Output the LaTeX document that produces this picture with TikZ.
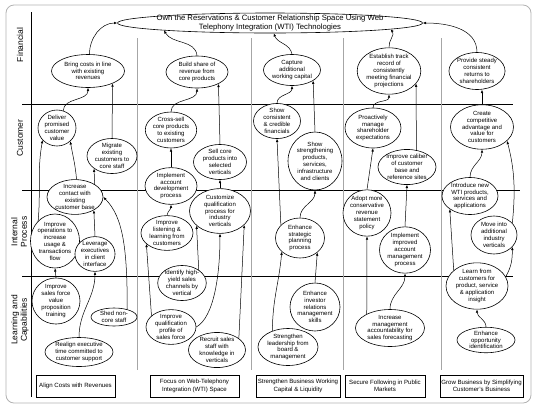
\documentclass[tikz,border=0pt]{standalone}
\usepackage{fontspec}
\setmainfont{Liberation Sans}
\usetikzlibrary{shapes.geometric,arrows.meta,shadows}
\begin{document}
\begin{tikzpicture}[x=1pt,y=1pt,
  el/.style={ellipse,draw,fill=white,line width=0.6pt,inner sep=0pt,align=center,font=\fontsize{6}{6.8}\selectfont},
  sz/.style 2 args={minimum width=#1pt,minimum height=#2pt},
  conn/.style={line width=0.5pt,-{Latex[length=3.2pt,width=2.6pt]}},
  lane/.style={line width=0.8pt},
  col/.style={draw=black!35,line width=0.5pt},
  bx/.style={draw,fill=white,line width=0.6pt,align=center,font=\fontsize{6.1}{7.2}\selectfont,inner sep=0pt,minimum height=22pt,drop shadow={shadow xshift=0.8pt,shadow yshift=-0.8pt,opacity=1,fill=black}},
  lbl/.style={rotate=90,align=center,font=\fontsize{8.5}{9.5}\selectfont}
]
\useasboundingbox (0,0) rectangle (538,-408);
\draw[black!30,line width=0.8pt,rounded corners=8pt] (6,-5) rectangle (531,-403);
% structure lines
\draw[lane] (31,-12) -- (31,-397);
\draw[lane] (22,-104) -- (513,-104);
\draw[lane] (22,-190) -- (520,-190);
\draw[lane] (22,-276) -- (513,-276);
\foreach \cx in {137,251,343,441} \draw[col] (\cx,-38) -- (\cx,-370);
% lane labels
\node[lbl] (lf) at (20,-45) {Financial};
\node[lbl] (lc) at (20,-138) {Customer};
\node[lbl] (li) at (19,-232) {Internal\\Process};
\node[lbl] (ll) at (20,-320) {Learning and\\Capabilities};
% title
\node[el,sz={305}{20},font=\fontsize{7.7}{9}\selectfont,inner xsep=-35pt,inner ysep=-3pt] (title) at (270,-23) {Own the Reservations \& Customer Relationship Space Using Web\\Telephony Integration (WTI) Technologies};
% financial
\node[el,sz={73}{33}] (bring) at (88,-71) {Bring costs in line\\with existing\\revenues};
\node[el,sz={62}{32}] (build) at (197,-72) {Build share of\\revenue from\\core products};
\node[el,sz={57}{31}] (capture) at (292,-70) {Capture\\additional\\working capital};
\node[el,sz={63}{42}] (establish) at (389,-71) {Establish track\\record of\\consistently\\meeting financial\\projections};
\node[el,sz={55}{37}] (provide) at (477,-71) {Provide steady\\consistent\\returns to\\shareholders};
% customer
\node[el,sz={38}{36}] (deliver) at (57,-128) {Deliver\\promised\\customer\\value};
\node[el,sz={50}{32}] (migrate) at (112,-156) {Migrate\\existing\\customers to\\core staff};
\node[el,sz={50}{36}] (crosssell) at (171,-130) {Cross-sell\\core products\\to existing\\customers};
\node[el,sz={53}{28}] (sellcore) at (220,-162) {Sell core\\products into\\selected\\verticals};
\node[el,sz={47}{31}] (showcons) at (277,-121) {Show\\consistent\\\& credible\\financials};
\node[el,sz={54}{58}] (showstr) at (315,-161) {Show\\strengthening\\products,\\services,\\infrastructure\\and clients};
\node[el,sz={56}{40}] (proactive) at (373,-128) {Proactively\\manage\\shareholder\\expectations};
\node[el,sz={54}{30}] (caliber) at (407,-167) {Improve caliber\\of customer\\base and\\reference sites};
\node[el,sz={63}{37}] (create) at (482,-127) {Create\\competitive\\advantage and\\value for\\customers};
% internal
\node[el,sz={56}{32}] (increase) at (75,-197) {Increase\\contact with\\existing\\customer base};
\node[el,sz={48}{53}] (improveops) at (55,-241) {Improve\\operations to\\increase\\usage \&\\transactions\\flow};
\node[el,sz={33}{33}] (leverage) at (95,-254) {Leverage\\executives\\in client\\interface};
\node[el,sz={52}{32}] (implement) at (171,-186) {Implement\\account\\development\\process};
\node[el,sz={61}{36}] (customize) at (220,-211) {Customize\\qualification\\process for\\industry\\verticals};
\node[el,sz={52}{29}] (improvelisten) at (167,-233) {Improve\\listening \&\\learning from\\customers};
\node[el,sz={49}{40}] (enhancestrat) at (300,-238) {Enhance\\strategic\\planning\\process};
\node[el,sz={48}{40}] (adopt) at (367,-213) {Adopt more\\conservative\\revenue\\statement\\policy};
\node[el,sz={51}{44}] (implimproved) at (405,-250) {Implement\\improved\\account\\management\\process};
\node[el,sz={56}{37}] (introduce) at (470,-196) {Introduce new\\WTI products,\\services and\\applications};
\node[el,sz={46}{38}] (moveinto) at (494,-235) {Move into\\additional\\industry\\verticals};
% learning
\node[el,sz={48}{42}] (improvesales) at (56,-301) {Improve\\sales force\\value\\proposition\\training};
\node[el,sz={46}{18}] (shed) at (114,-317) {Shed non-\\core staff};
\node[el,sz={68}{29}] (realign) at (79,-352) {Realign executive\\time committed to\\customer support};
\node[el,sz={47}{34}] (identify) at (182,-283) {Identify high-\\yield sales\\channels by\\vertical};
\node[el,sz={50}{34}] (improvequal) at (171,-327) {Improve\\qualification\\profile of\\sales force};
\node[el,sz={57}{30}] (recruit) at (217,-350) {Recruit sales\\staff with\\knowledge in\\verticals};
\node[el,sz={50}{48}] (enhinvestor) at (315,-307) {Enhance\\investor\\relations\\management\\skills};
\node[el,sz={60}{37}] (strengthen) at (288,-347) {Strengthen\\leadership from\\board \&\\management};
\node[el,sz={69}{37}] (incmgmt) at (390,-328) {Increase\\management\\accountability for\\sales forecasting};
\node[el,sz={62}{42}] (learn) at (477,-286) {Learn from\\customers for\\product, service\\\& application\\insight};
\node[el,sz={58}{25}] (enhopp) at (486,-340) {Enhance\\opportunity\\identification};
% bottom boxes
\node[bx,minimum width=79pt] (b1) at (75.5,-386) {Align Costs with Revenues};
\node[bx,minimum width=89pt] (b2) at (194.5,-386) {Focus on Web-Telephony\\Integration (WTI) Space};
\node[bx,minimum width=84pt] (b3) at (298,-386) {Strengthen Business Working\\Capital \& Liquidity};
\node[bx,minimum width=80pt] (b4) at (385,-386) {Secure Following in Public\\Markets};
\node[bx,minimum width=83pt] (b5) at (481.5,-386) {Grow Business by Simplifying\\Customer's Business};
% connectors to title
\draw[conn] (bring.85) to[out=90,in=180] (title.west);
\draw[conn] (build.north) to[out=95,in=-60] (title.-176);
\draw[conn] (capture.north) to[out=100,in=-70] (title.-70);
\draw[conn] (establish.north) to[out=95,in=-50] (title.-3.6);
\draw[conn] (provide.north) to[out=90,in=0] (title.east);
% column 1
\draw[conn] (deliver.70) to[out=90,in=-90] (bring.south);
\draw[conn] (migrate.north) -- (bring.-27);
\draw[conn] (increase.85) to[out=95,in=-80] (deliver.-45);
\draw[conn] (improveops.130) to[out=85,in=-100] (deliver.-140);
\draw[conn] (increase.33) -- (migrate.-145);
\draw[conn] (leverage.north) -- (increase.-35);
\draw[conn] (shed.30) .. controls +(0,60) and +(20,-20) .. (increase.east);
\draw[conn] (improvesales.north) -- (improveops.south);
\draw[conn] (realign.north) to[out=90,in=-90] (leverage.south);
% column 2
\draw[conn] (crosssell.north) to[out=90,in=-90] (build.south);
\draw[conn] (sellcore.north) -- (build.-29);
\draw[conn] (implement.north) -- (crosssell.south);
\draw[conn] (customize.north) -- (sellcore.south);
\draw[conn] (improvelisten.north) to[out=80,in=-90] (implement.south);
\draw[conn] (identify.38) -- (customize.-148);
\draw[conn] (improvequal.east) .. controls +(18,10) and +(0,-40) .. (customize.south);
\draw[conn] (recruit.28) -- (customize.-30);
\draw[conn] (improvequal.150) -- (improvelisten.-152);
% column 3
\draw[conn] (showcons.north) to[out=90,in=-90] (capture.south);
\draw[conn] (showstr.north) -- (capture.-27);
\draw[conn] (enhancestrat.146) -- (showcons.south);
\draw[conn] (enhancestrat.north) to[out=90,in=-90] (showstr.south);
\draw[conn] (enhinvestor.north) -- (enhancestrat.-40);
\draw[conn] (strengthen.134) to[out=90,in=-95] (enhancestrat.-143);
% column 4
\draw[conn] (proactive.north) to[out=90,in=-90] (establish.south);
\draw[conn] (caliber.61) -- (establish.-25);
\draw[conn] (adopt.north) -- (proactive.south);
\draw[conn] (implimproved.north) -- (caliber.south);
\draw[conn] (incmgmt.149) -- (adopt.south);
\draw[conn] (incmgmt.north) to[out=90,in=-90] (implimproved.south);
% column 5
\draw[conn] (create.north) -- (create.north |- provide.south);
\draw[conn] (introduce.north) to[out=90,in=-90] (create.south);
\draw[conn] (moveinto.33) .. controls +(3,30) and +(8,-30) .. (create.-29);
\draw[conn] (learn.18) to[out=60,in=-90] (moveinto.-33);
\draw[conn] (learn.146) -- (introduce.-147);
\draw[conn] (enhopp.north) to[out=90,in=-90] (learn.south);
\end{tikzpicture}
\end{document}
